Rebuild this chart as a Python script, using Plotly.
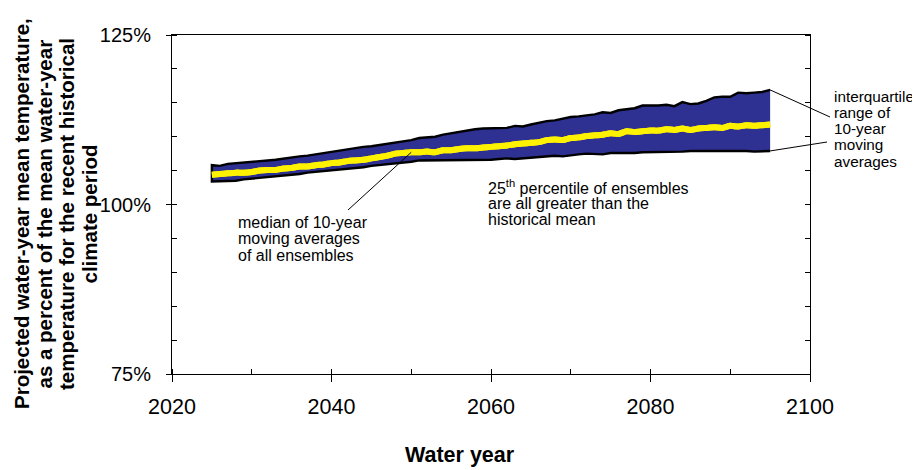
import plotly.graph_objects as go

# ---------------- data ----------------
years = list(range(2025, 2096))

p75 = [105.8, 105.7, 106.0, 106.1, 106.2, 106.2, 106.4, 106.5, 106.6, 106.7,
       106.9, 107.1, 107.2, 107.4, 107.6, 107.7, 107.9, 108.1, 108.3, 108.5,
       108.6, 108.7, 109.0, 109.2, 109.3, 109.5, 109.8, 109.9, 110.0, 110.3,
       110.6, 110.8, 110.9, 111.1, 111.2, 111.3, 111.3, 111.3, 111.6, 111.5,
       111.8, 112.1, 112.3, 112.4, 112.6, 112.9, 113.0, 113.1, 113.3, 113.6,
       113.5, 113.9, 114.0, 114.2, 114.6, 114.6, 114.6, 114.7, 114.5, 115.1,
       114.8, 114.9, 115.3, 115.8, 115.9, 115.9, 116.5, 116.4, 116.5, 116.6,
       116.9]

p50 = [104.4, 104.5, 104.6, 104.7, 104.7, 104.8, 105.0, 105.1, 105.1, 105.3,
       105.4, 105.6, 105.6, 105.8, 105.9, 106.1, 106.2, 106.4, 106.5, 106.6,
       106.8, 107.0, 107.2, 107.5, 107.6, 107.7, 107.7, 107.8, 107.7, 108.0,
       108.0, 108.2, 108.3, 108.3, 108.4, 108.5, 108.6, 108.7, 108.9, 109.0,
       109.1, 109.2, 109.5, 109.6, 109.5, 109.8, 109.9, 110.1, 110.2, 110.3,
       110.5, 110.4, 110.8, 110.7, 110.8, 110.9, 110.9, 111.1, 111.0, 111.2,
       111.0, 111.2, 111.3, 111.4, 111.3, 111.6, 111.5, 111.7, 111.6, 111.7,
       111.8]

p25 = [103.4, 103.4, 103.5, 103.5, 103.7, 103.8, 103.9, 104.1, 104.1, 104.2,
       104.4, 104.5, 104.7, 104.8, 104.9, 105.0, 105.2, 105.3, 105.4, 105.5,
       105.7, 105.8, 105.9, 106.0, 106.2, 106.3, 106.5, 106.5, 106.5, 106.6,
       106.6, 106.6, 106.5, 106.6, 106.6, 106.6, 106.7, 106.8, 106.7, 106.8,
       106.9, 107.0, 107.0, 107.2, 107.1, 107.3, 107.4, 107.5, 107.5, 107.4,
       107.6, 107.6, 107.5, 107.6, 107.7, 107.7, 107.7, 107.8, 107.7, 107.8,
       107.9, 107.9, 108.0, 107.9, 107.9, 108.0, 108.0, 107.9, 107.8, 107.8,
       107.9]

x_range = [2020, 2100]
y_range = [75, 125]
y_tickvals = [75, 100, 125]
y_ticktext = ["75%", "100%", "125%"]
x_tickvals = [2020, 2040, 2060, 2080, 2100]

# ---------------- layout geometry (page pixels) ----------------
PAGE_W, PAGE_H = 920, 470
OFF = 8                      # default body margin of the html page
W, H = PAGE_W - OFF, PAGE_H - OFF
L, R, T, B = 172, 810, 35, 374
FONT = "Liberation Sans, Arial, sans-serif"
BLUE = "#2E3192"
YELLOW = "#FFF200"


def pp(px, py):
    """page pixel -> paper coords"""
    return (px - L) / (R - L), (B - py) / (B - T)


def dp(xv, yv):
    """data -> paper coords"""
    return ((xv - x_range[0]) / (x_range[1] - x_range[0]),
            (yv - y_range[0]) / (y_range[1] - y_range[0]))


fig = go.Figure()

# IQR band fill
fig.add_trace(go.Scatter(
    x=years + years[::-1], y=p75 + p25[::-1],
    fill="toself", fillcolor=BLUE, line=dict(width=0),
    mode="lines", hoverinfo="skip", showlegend=False))

# black outline (top, left edge, bottom)
fig.add_trace(go.Scatter(
    x=years[::-1] + years, y=p75[::-1] + p25,
    mode="lines", line=dict(color="black", width=2.4),
    hoverinfo="skip", showlegend=False))

# median
fig.add_trace(go.Scatter(
    x=years, y=p50, mode="lines",
    line=dict(color=YELLOW, width=6, shape="spline", smoothing=0.6),
    hoverinfo="skip", showlegend=False))

# right-hand frame axis (carries the same median so the axis is registered)
fig.add_trace(go.Scatter(x=years, y=p50, yaxis="y2", mode="lines",
                         line=dict(color=YELLOW, width=6, shape="spline", smoothing=0.6),
                         hoverinfo="skip", showlegend=False))

ann = []
shapes = []


def text_line(txt, px, py, size=16, anchor="left", bold=False, angle=0):
    x, y = pp(px, py)
    t = "<b>%s</b>" % txt if bold else txt
    ann.append(dict(text=t, x=x, y=y, xref="paper", yref="paper",
                    xanchor=anchor, yanchor="middle", showarrow=False,
                    textangle=angle,
                    font=dict(family=FONT, size=size, color="black")))


# median label
for i, s in enumerate(["median of 10-year", "moving averages", "of all ensembles"]):
    text_line(s, 236, 222 + i * 16.8)
# 25th percentile label
for i, s in enumerate(["25<sup>th</sup> percentile of ensembles",
                       "are all greater than the", "historical mean"]):
    text_line(s, 486, 187 + i * 16.3)
# IQR label
for i, s in enumerate(["interquartile", "range of", "10-year", "moving", "averages"]):
    text_line(s, 832, 96 + i * 16.3, size=15.3)

# axis titles
text_line("Water year", 460, 455, size=21.5, anchor="center", bold=True)
for i, s in enumerate(["Projected water-year mean temperature,",
                       "as a percent of the mean water-year",
                       "temperature for the recent historical",
                       "climate period"]):
    text_line(s, 21 + i * 22.5, 214, size=20.5, anchor="center", bold=True, angle=-90)

# leader lines
mx, my = dp(years[25], p50[25])
lx, ly = pp(348, 210)
shapes.append(dict(type="line", xref="paper", yref="paper", x0=lx, y0=ly, x1=mx, y1=my,
                   line=dict(color="black", width=1)))
ux, uy = dp(years[-1], p75[-1])
tx, ty = pp(830, 117)
shapes.append(dict(type="line", xref="paper", yref="paper", x0=ux, y0=uy, x1=tx, y1=ty,
                   line=dict(color="black", width=1)))
bx, by = dp(years[-1], p25[-1])
tx2, ty2 = pp(827, 142)
shapes.append(dict(type="line", xref="paper", yref="paper", x0=bx, y0=by, x1=tx2, y1=ty2,
                   line=dict(color="black", width=1)))

fig.update_layout(
    width=W, height=H,
    margin=dict(l=L - OFF, r=PAGE_W - R, t=T - OFF, b=PAGE_H - B, pad=0,
                autoexpand=False),
    paper_bgcolor="white", plot_bgcolor="white",
    font=dict(family=FONT, size=20, color="black"),
    xaxis=dict(range=x_range, tickvals=x_tickvals, ticks="outside", ticklen=7,
               tickwidth=1, tickcolor="black", showline=True, linecolor="black",
               linewidth=1, mirror=True, showgrid=False, zeroline=False,
               automargin=False,
               tickfont=dict(size=21.5), ticklabelstandoff=6,
               minor=dict(dtick=10, ticks="inside", ticklen=5, tickcolor="black",
                          showgrid=False)),
    yaxis=dict(range=y_range, tickvals=y_tickvals, ticktext=y_ticktext,
               ticks="outside", ticklen=5, tickwidth=1, tickcolor="black",
               showline=True, linecolor="black", linewidth=1,
               showgrid=False, zeroline=False, tickfont=dict(size=20),
               automargin=False, ticklabelstandoff=11,
               minor=dict(dtick=5, ticks="inside", ticklen=5, tickcolor="black",
                          showgrid=False)),
    yaxis2=dict(range=y_range, overlaying="y", side="right", showline=True,
                linecolor="black", linewidth=1, tickvals=y_tickvals, ticks="",
                showticklabels=False, showgrid=False, zeroline=False,
                automargin=False,
                minor=dict(dtick=5, ticks="inside", ticklen=5, tickcolor="black",
                           showgrid=False)),
    annotations=ann, shapes=shapes, showlegend=False,
)

fig.write_html("out.html")
